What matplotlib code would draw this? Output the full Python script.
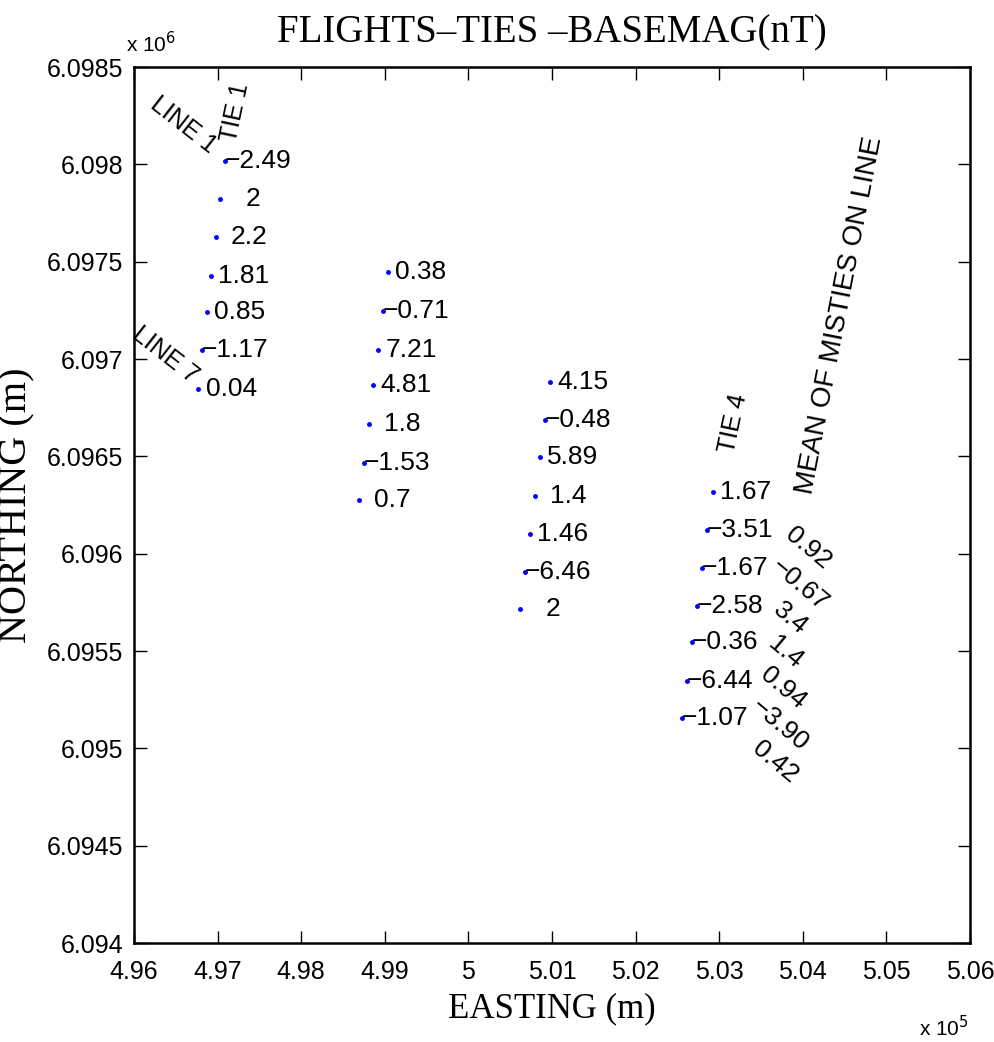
import numpy as np
import matplotlib
matplotlib.use('Agg')
import matplotlib.pyplot as plt
from matplotlib.ticker import FuncFormatter, MultipleLocator

# crossover points along each tie (easting, northing in m) and the misties (nT)
tie1_e = [497088, 497029, 496981, 496921, 496873, 496813, 496766]
tie1_n = [6098017, 6097822, 6097627, 6097427, 6097242, 6097046, 6096846]
tie1_v = ['−2.49', '2', '2.2', '1.81', '0.85', '−1.17', '0.04']

tie2_e = [499038, 498978, 498919, 498859, 498811, 498751, 498692]
tie2_n = [6097447, 6097247, 6097046, 6096867, 6096666, 6096466, 6096276]
tie2_v = ['0.38', '−0.71', '7.21', '4.81', '1.8', '−1.53', '0.7']

tie3_e = [500976, 500916, 500856, 500797, 500737, 500677, 500617]
tie3_n = [6096882, 6096687, 6096497, 6096297, 6096101, 6095906, 6095716]
tie3_v = ['4.15', '−0.48', '5.89', '1.4', '1.46', '−6.46', '2']

tie4_e = [502926, 502854, 502794, 502734, 502675, 502615, 502555]
tie4_n = [6096317, 6096122, 6095927, 6095732, 6095547, 6095346, 6095156]
tie4_v = ['1.67', '−3.51', '−1.67', '−2.58', '−0.36', '−6.44', '−1.07']

# mean mistie per line, written next to tie 4
mean_e = [504062, 503967, 503847, 503787, 503763, 503727, 503667]
mean_n = [6096030, 6095840, 6095670, 6095495, 6095310, 6095120, 6094930]
mean_v = ['0.92', '−0.67', '3.4', '1.4', '0.94', '−3.90', '0.42']

sans = ['Liberation Sans', 'DejaVu Sans']
serif = ['Liberation Serif', 'DejaVu Serif']

fig = plt.figure(figsize=(9.95, 10.42), dpi=100)
ax = fig.add_axes([0.1347, 0.095, 0.8402, 0.8407])

for E, N, V in [(tie1_e, tie1_n, tie1_v), (tie2_e, tie2_n, tie2_v),
                (tie3_e, tie3_n, tie3_v), (tie4_e, tie4_n, tie4_v)]:
    ax.plot(E, N, '.', color='blue', markersize=5, linestyle='none')
    for e, n, v in zip(E, N, V):
        ax.annotate(v, (e, n), xytext=(33, 0), textcoords='offset pixels',
                    ha='center', va='center', fontsize=19, family=sans)

for e, n, v in zip(mean_e, mean_n, mean_v):
    ax.text(e, n, v, rotation=-40, ha='center', va='center',
            fontsize=19, family=sans, rotation_mode='anchor')

ax.text(496586, 6098202, 'LINE 1', rotation=-38, ha='center', va='center',
        fontsize=18, family=sans)
ax.text(497208, 6098269, 'TIE 1', rotation=78, ha='center', va='center',
        fontsize=18, family=sans)
ax.text(496371, 6097021, 'LINE 7', rotation=-38, ha='center', va='center',
        fontsize=18, family=sans)
ax.text(503165, 6096672, 'TIE 4', rotation=78, ha='center', va='center',
        fontsize=18, family=sans)
ax.text(504445, 6097226, 'MEAN OF MISTIES ON LINE', rotation=79,
        ha='center', va='center', fontsize=20, family=sans)

ax.set_xlim(496000, 506000)
ax.set_ylim(6094000, 6098500)
ax.xaxis.set_major_locator(MultipleLocator(1000))
ax.yaxis.set_major_locator(MultipleLocator(500))
ax.xaxis.set_major_formatter(FuncFormatter(lambda v, p: '%g' % round(v / 1e5, 4)))
ax.yaxis.set_major_formatter(FuncFormatter(lambda v, p: '%g' % round(v / 1e6, 5)))
ax.tick_params(direction='in', length=9, width=1, top=True, right=True,
               labelsize=18)
ax.tick_params(axis='x', pad=12)
ax.tick_params(axis='y', pad=8)
for lab in ax.get_xticklabels() + ax.get_yticklabels():
    lab.set_family(sans)
for s in ax.spines.values():
    s.set_linewidth(1.8)

ax.set_title('FLIGHTS–TIES –BASEMAG(nT)', family=serif, fontsize=28, pad=18)
ax.set_xlabel('EASTING (m)', family=serif, fontsize=25, labelpad=6)
ax.set_ylabel('NORTHING (m)', family=serif, fontsize=29, labelpad=8)

fig.text(0.127, 0.950, r'x 10$^{6}$', family=sans, fontsize=15)
fig.text(0.924, 0.006, r'x 10$^{5}$', family=sans, fontsize=15)

fig.savefig('out.png', dpi=100)
